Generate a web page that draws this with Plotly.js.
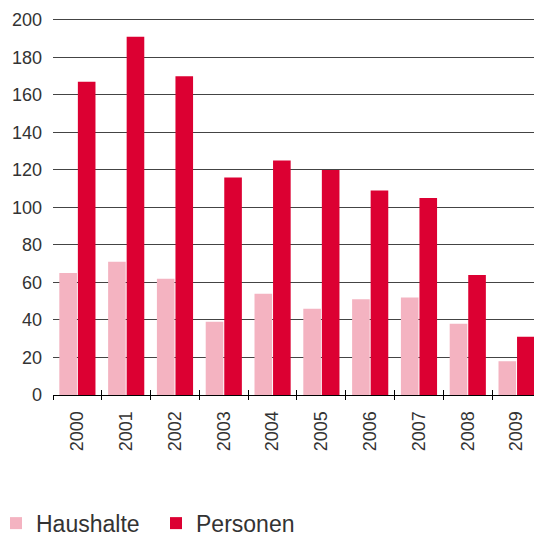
<!DOCTYPE html>
<html>
<head>
<meta charset="utf-8">
<script src="https://cdn.plot.ly/plotly-3.0.1.min.js"></script>
<style>html,body{margin:0;padding:0;overflow:hidden;background:#fff;}</style>
</head>
<body>
<div id="chart" style="width:534px;height:539px;"></div>
<script>
const years = ['2000','2001','2002','2003','2004','2005','2006','2007','2008','2009'];
const haushalte = [65, 71, 62, 39, 54, 46, 51, 52, 38, 18];
const personen = [167, 191, 170, 116, 125, 120, 109, 105, 64, 31];
const seriesNames = ['Haushalte', 'Personen'];
const yTicks = [0, 20, 40, 60, 80, 100, 120, 140, 160, 180, 200];

const FONT = 'Liberation Sans, Arial, sans-serif';
const TXT = '#333333';

const data = [
  {type: 'bar', name: seriesNames[0], x: years, y: haushalte,
   marker: {color: '#f4b3c1'}, hoverinfo: 'x+y'},
  {type: 'bar', name: seriesNames[1], x: years, y: personen,
   marker: {color: '#dc0032'}, hoverinfo: 'x+y'},
  {type: 'bar', x: years, y: years.map(() => 0), xaxis: 'x2', yaxis: 'y',
   showlegend: false, hoverinfo: 'skip', marker: {color: 'rgba(0,0,0,0)'}}
];

const layout = {
  width: 534, height: 539,
  margin: {l: 53, r: 0, t: 18, b: 144, pad: 0, autoexpand: false},
  paper_bgcolor: '#ffffff', plot_bgcolor: '#ffffff',
  barmode: 'group', bargap: 0.24, bargroupgap: 0.05,
  font: {family: FONT, color: TXT},
  xaxis: {
    type: 'category', range: [-0.5, 9.357], automargin: false,
    showgrid: false, zeroline: false,
    showline: true, linecolor: '#000', linewidth: 1,
    ticks: 'outside', ticklen: 4, tickwidth: 1, tickcolor: '#000',
    tickson: 'boundaries',
    tickangle: -90, ticklabelstandoff: 8,
    tickfont: {size: 18, color: TXT, family: FONT}
  },
  xaxis2: {
    type: 'category', matches: 'x', overlaying: 'x', anchor: 'y',
    showgrid: false, zeroline: false, showline: false,
    ticks: 'inside', ticklen: 5, tickwidth: 1, tickcolor: '#000',
    tickson: 'boundaries', showticklabels: false
  },
  yaxis: {
    range: [0, 201], tickvals: yTicks, ticktext: yTicks.map(String),
    automargin: false,
    showgrid: true, gridcolor: '#444444', gridwidth: 1,
    zeroline: false, showline: false, ticks: '',
    ticklabelstandoff: 10,
    tickfont: {size: 18, color: TXT, family: FONT}
  },
  showlegend: true,
  legend: {
    orientation: 'h', xref: 'paper', yref: 'paper',
    x: -0.1185, xanchor: 'left', y: -0.397, yanchor: 'bottom',
    font: {size: 23, color: TXT, family: FONT},
    traceorder: 'normal', entrywidth: 115, entrywidthmode: 'pixels',
    itemclick: false, itemdoubleclick: false
  }
};

Plotly.newPlot('chart', data, layout, {displayModeBar: false, staticPlot: true});
</script>
</body>
</html>
